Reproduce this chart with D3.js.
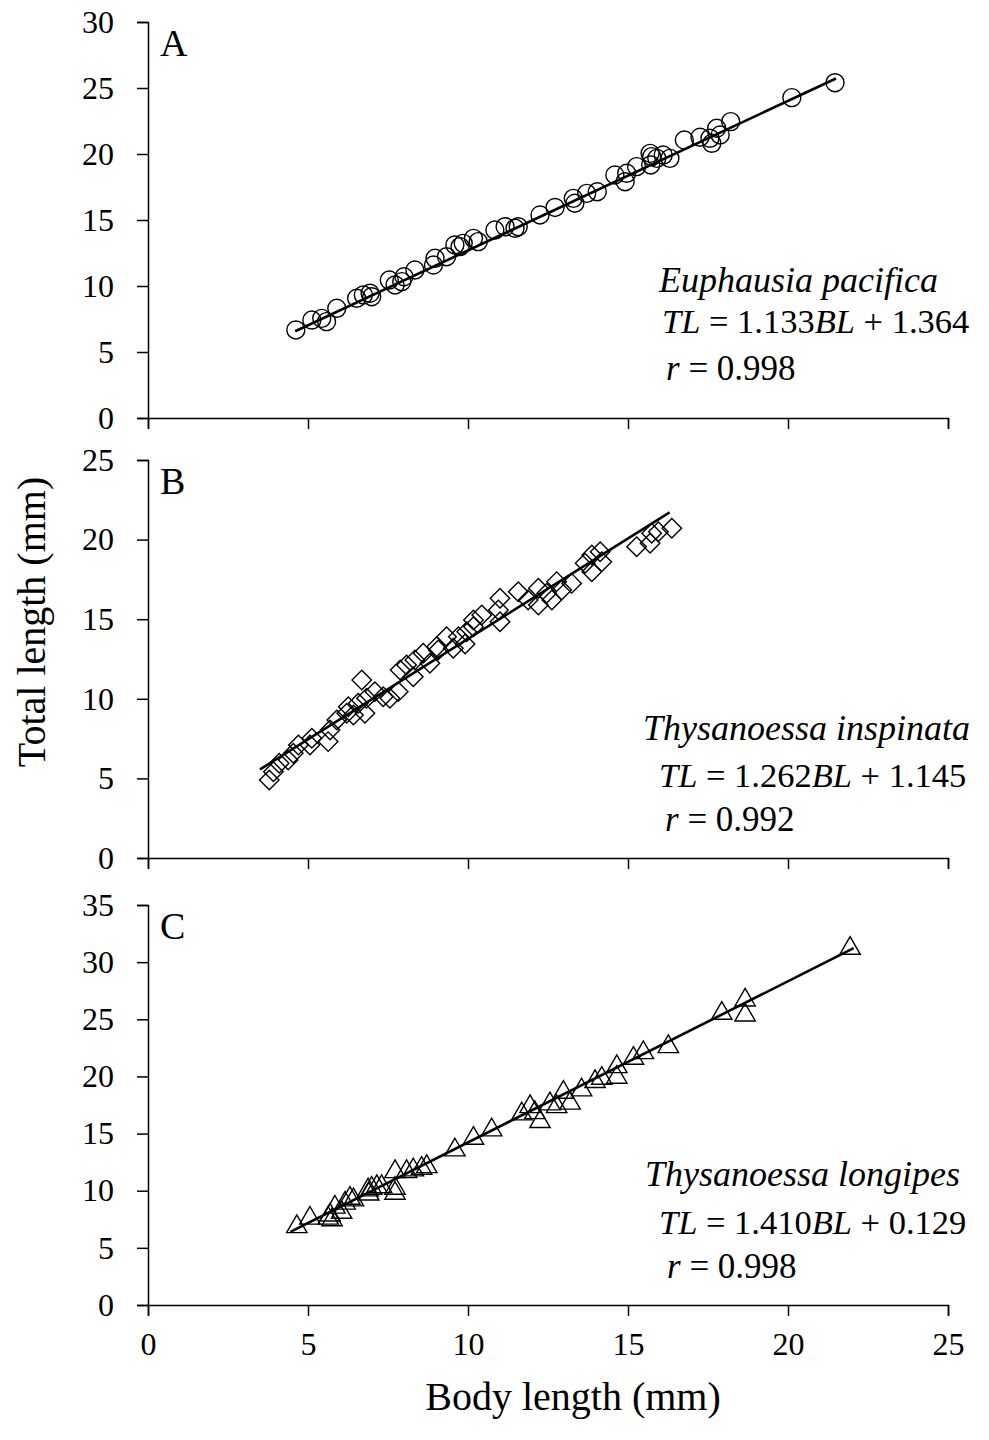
<!DOCTYPE html>
<html><head><meta charset="utf-8">
<script src="https://cdn.jsdelivr.net/npm/d3@7"></script>
<style>
html,body{margin:0;padding:0;background:#fff;}
text{font-family:"Liberation Serif","Times New Roman",serif;fill:#000;}
</style></head>
<body>
<svg id="chart" width="989" height="1440"></svg>
<script>
// ---- data ----
const xTicks = [0, 5, 10, 15, 20, 25];
const yTicksA = [0, 5, 10, 15, 20, 25, 30];
const yTicksB = [0, 5, 10, 15, 20, 25];
const yTicksC = [0, 5, 10, 15, 20, 25, 30, 35];

const aBL = [4.62,5.12,5.43,5.58,5.90,6.52,6.73,6.94,6.99,7.54,7.72,7.93,8.00,8.34,8.92,8.97,9.33,9.59,9.75,9.85,10.17,10.32,10.84,11.16,11.47,11.57,12.25,12.72,13.34,13.29,13.71,14.04,14.59,14.91,14.96,15.27,15.69,15.74,15.71,15.90,16.10,16.31,16.76,17.25,17.56,17.77,17.88,17.62,18.21,20.12,21.47];
const aTL = [6.67,7.42,7.55,7.30,8.31,9.07,9.32,9.45,9.19,10.45,10.08,10.33,10.70,11.21,11.59,12.10,12.22,13.11,12.98,13.23,13.61,13.36,14.24,14.49,14.37,14.49,15.38,15.95,16.27,16.64,17.02,17.14,18.41,17.90,18.54,19.04,20.05,19.80,19.17,19.67,19.92,19.67,21.06,21.27,21.19,21.95,21.44,20.81,22.45,24.27,25.40];

const bBL = [3.79,3.92,4.10,4.38,4.54,4.70,5.06,5.12,5.63,5.69,5.90,6.21,6.26,6.42,6.57,6.68,6.78,6.83,7.09,7.35,7.56,7.82,7.88,8.08,8.29,8.34,8.60,8.81,9.02,9.07,9.33,9.54,9.70,9.91,9.96,10.17,10.17,10.43,10.95,11.00,11.00,11.57,11.88,12.20,12.20,12.46,12.62,12.77,12.93,13.24,13.66,13.87,13.87,14.13,14.18,15.27,15.69,15.74,15.95,16.37];
const bTL = [4.90,5.42,5.95,6.16,6.58,7.10,7.10,7.52,7.31,8.04,8.67,9.09,9.50,8.98,9.72,11.18,9.09,10.03,10.45,10.13,10.03,10.45,11.81,12.12,11.39,12.44,12.86,12.23,13.27,13.07,13.90,13.17,13.90,13.44,14.21,14.53,14.95,15.26,15.58,16.31,14.84,16.73,16.21,16.94,15.89,16.63,16.21,17.36,16.83,17.25,18.51,17.98,19.03,19.24,18.61,19.55,19.77,20.40,20.50,20.71];

const cBL = [4.65,5.06,5.63,5.69,5.75,5.84,6.05,6.16,6.31,6.42,6.88,6.90,6.99,7.15,7.30,7.72,7.72,7.72,8.08,8.29,8.55,8.71,9.59,10.17,10.74,11.68,11.94,12.09,12.25,12.56,12.77,12.98,13.19,13.55,13.97,14.18,14.65,14.65,15.17,15.48,16.26,17.93,18.66,18.66,21.94];
const cTL = [6.85,7.59,7.59,7.87,7.45,8.55,8.10,8.90,9.33,9.19,10.06,9.70,10.21,10.35,10.35,11.66,10.21,9.77,11.66,11.81,11.96,12.10,13.56,14.58,15.31,16.71,17.35,16.82,16.04,17.59,17.35,18.61,17.65,18.81,19.54,19.83,20.85,19.92,21.58,22.07,22.60,25.52,26.68,25.37,31.20];

// regression: slope, intercept, fitted BL range
const fitSlope = [1.133, 1.262, 1.410];
const fitIntercept = [1.364, 1.145, 0.129];
const fitRange = [[4.6, 21.5], [3.5, 16.3], [4.45, 22.05]];

const panelLetters = ["A", "B", "C"];
const species = ["Euphausia pacifica", "Thysanoessa inspinata", "Thysanoessa longipes"];
const slopeText = ["1.133", "1.262", "1.410"];
const interceptText = ["1.364", "1.145", "0.129"];
const rText = ["0.998", "0.992", "0.998"];

const xTitle = "Body length (mm)";
const yTitle = "Total length (mm)";

// ---- layout ----
const svg = d3.select("#chart");
svg.append("rect").attr("width", 989).attr("height", 1440).attr("fill", "#fff");

const x = d3.scaleLinear().domain([0, 25]).range([148, 948]);

const panels = [
  {bl: aBL, tl: aTL, yMax: 30, ticks: yTicksA, top: 22, bottom: 418, sym: "circle",
   ann: [[659, 292], [662, 333], [666, 380]]},
  {bl: bBL, tl: bTL, yMax: 25, ticks: yTicksB, top: 460, bottom: 858, sym: "diamond",
   ann: [[643, 740], [659, 787], [665, 831]]},
  {bl: cBL, tl: cTL, yMax: 35, ticks: yTicksC, top: 905, bottom: 1305, sym: "triangle",
   ann: [[645, 1186], [659, 1234], [667, 1278]]}
];

panels.forEach((p, i) => {
  const y = d3.scaleLinear().domain([0, p.yMax]).range([p.bottom, p.top]);
  const g = svg.append("g");

  // y axis
  const ya = g.append("g").attr("transform", `translate(${x(0)},0)`)
    .call(d3.axisLeft(y).tickValues(p.ticks).tickSize(11).tickPadding(23).tickFormat(d3.format("d")));
  ya.select(".domain").attr("stroke", "#000").attr("stroke-width", 1.5);
  ya.selectAll(".tick line").attr("stroke", "#000").attr("stroke-width", 1.5);
  ya.selectAll(".tick text").attr("font-size", 32).attr("font-family", "Liberation Serif, serif").attr("fill", "#000");

  // x axis
  const xa = g.append("g").attr("transform", `translate(0,${p.bottom})`)
    .call(d3.axisBottom(x).tickValues(xTicks).tickSize(11).tickPadding(16).tickFormat(d3.format("d")));
  xa.select(".domain").attr("stroke", "#000").attr("stroke-width", 1.5);
  xa.selectAll(".tick line").attr("stroke", "#000").attr("stroke-width", 1.5);
  xa.selectAll(".tick text").attr("font-size", 32).attr("font-family", "Liberation Serif, serif").attr("fill", "#000")
    .style("display", i === 2 ? null : "none");

  // fitted line
  const line = d3.line().x(d => x(d)).y(d => y(fitSlope[i] * d + fitIntercept[i]));
  g.append("path").datum(fitRange[i]).attr("d", line)
    .attr("fill", "none").attr("stroke", "#000").attr("stroke-width", 2.6);

  // markers
  const pts = p.bl.map((v, k) => [v, p.tl[k]]);
  let symType, size, rot = 0;
  if (p.sym === "circle") { symType = d3.symbolCircle; size = Math.PI * 9 * 9; }
  else if (p.sym === "diamond") { symType = d3.symbolSquare; size = 190; rot = 45; }
  else { symType = d3.symbolTriangle; size = 180; }
  const sym = d3.symbol().type(symType).size(size);
  g.selectAll("path.m").data(pts).join("path").attr("class", "m")
    .attr("d", sym)
    .attr("transform", d => `translate(${x(d[0])},${y(d[1])}) rotate(${rot})`)
    .attr("fill", "none").attr("stroke", "#000").attr("stroke-width", 1.4);

  // panel letter
  g.append("text").attr("x", 160).attr("y", p.top + 34).attr("font-size", 38).text(panelLetters[i]);

  // annotations
  g.append("text").attr("x", p.ann[0][0]).attr("y", p.ann[0][1]).attr("font-size", 36)
    .attr("font-style", "italic").text(species[i]);
  const eq = g.append("text").attr("x", p.ann[1][0]).attr("y", p.ann[1][1]).attr("font-size", 34.5);
  eq.append("tspan").attr("font-style", "italic").text("TL");
  eq.append("tspan").text(" = " + slopeText[i]);
  eq.append("tspan").attr("font-style", "italic").text("BL");
  eq.append("tspan").text(" + " + interceptText[i]);
  const rr = g.append("text").attr("x", p.ann[2][0]).attr("y", p.ann[2][1]).attr("font-size", 35);
  rr.append("tspan").attr("font-style", "italic").text("r");
  rr.append("tspan").text(" = " + rText[i]);
});

// axis titles
svg.append("text").attr("x", 573).attr("y", 1410).attr("text-anchor", "middle")
  .attr("font-size", 40).text(xTitle);
svg.append("text").attr("transform", "translate(45,622) rotate(-90)").attr("text-anchor", "middle")
  .attr("font-size", 40).text(yTitle);
</script>
</body></html>
